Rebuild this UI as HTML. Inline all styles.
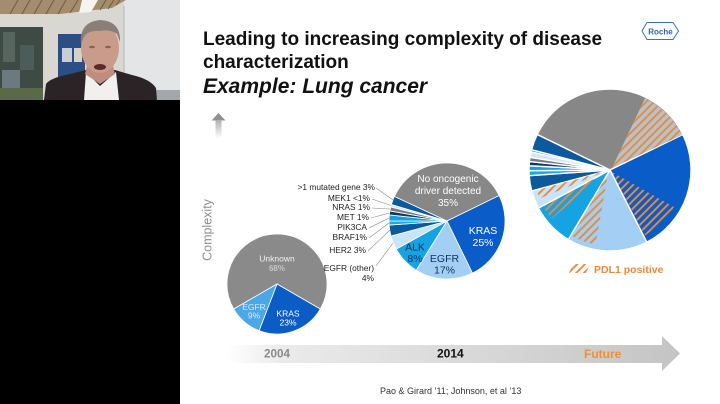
<!DOCTYPE html>
<html><head><meta charset="utf-8">
<style>
html,body{margin:0;padding:0;width:720px;height:404px;overflow:hidden;background:#fff}
svg{display:block}
text{font-family:"Liberation Sans",Arial,sans-serif}
</style></head><body>
<svg width="720" height="404" viewBox="0 0 720 404" xmlns="http://www.w3.org/2000/svg">
<defs>
 <pattern id="h" width="5.5" height="5.5" patternUnits="userSpaceOnUse" patternTransform="rotate(45)">
   <rect width="1.9" height="5.5" fill="#ec8a36"/>
 </pattern>
 <linearGradient id="tl" x1="227" y1="0" x2="680" y2="0" gradientUnits="userSpaceOnUse">
   <stop offset="0" stop-color="#ffffff"/>
   <stop offset="0.12" stop-color="#ebebeb"/>
   <stop offset="1" stop-color="#c4c4c4"/>
 </linearGradient>
 <linearGradient id="ua" x1="0" y1="113" x2="0" y2="138" gradientUnits="userSpaceOnUse">
   <stop offset="0" stop-color="#8f8f8f"/><stop offset="1" stop-color="#ffffff"/>
 </linearGradient>
</defs>

<!-- webcam -->
<rect x="0" y="0" width="180" height="100" fill="#d9d7d2"/>
<rect x="124" y="0" width="56" height="100" fill="#e4e5e7"/>
<line x1="124" y1="6" x2="124" y2="92" stroke="#b5b5b5" stroke-width="1"/>
<polygon points="0,0 126,0 112,8 60,14 0,14" fill="#a48d6d"/>
<g stroke="#6f5a40" stroke-width="1">
<line x1="10" y1="14" x2="18" y2="0"/><line x1="22" y1="14" x2="30" y2="0"/><line x1="34" y1="14" x2="42" y2="0"/>
<line x1="46" y1="14" x2="54" y2="0"/><line x1="58" y1="14" x2="66" y2="0"/><line x1="70" y1="13" x2="78" y2="0"/>
<line x1="100" y1="10" x2="106" y2="0"/><line x1="108" y1="9" x2="114" y2="0"/><line x1="116" y1="5" x2="120" y2="0"/>
</g>
<polygon points="82,0 98,0 91,12 79,13" fill="#f6f4ee"/>
<rect x="0" y="27" width="43" height="73" fill="#3e4a44"/>
<rect x="3" y="32" width="12" height="30" fill="#56665e"/>
<rect x="20" y="45" width="14" height="25" fill="#4c5c58"/>
<rect x="2" y="70" width="18" height="18" fill="#6a7a80"/>
<rect x="0" y="88" width="43" height="12" fill="#5a6a48"/>
<rect x="58" y="34" width="27" height="49" fill="#2c4e87"/>
<rect x="62" y="48" width="10" height="14" fill="#c9cdd6"/>
<rect x="74" y="48" width="8" height="14" fill="#d7d2c8"/>
<rect x="155" y="90" width="25" height="10" fill="#a3a7ab"/>
<path d="M44,100 L46,84 Q50,78 70,74 L86,70 L115,70 L132,75 Q150,79 156,88 L157,100 Z" fill="#2a2426"/>
<path d="M84,100 L86,72 L100,86 L116,72 L119,100 Z" fill="#f1f0ef"/>
<path d="M88,62 L112,62 L115,74 L100,84 L85,74 Z" fill="#c08c7e"/>
<ellipse cx="100" cy="48" rx="19" ry="25" fill="#c99b8b"/>
<path d="M81,44 Q79,22 100,20 Q121,21 120,42 L117,34 Q110,29 100,31 Q88,30 84,37 Z" fill="#8a7f78"/>
<ellipse cx="92" cy="47" rx="3" ry="1.2" fill="#8a6058"/>
<ellipse cx="108" cy="47" rx="3" ry="1.2" fill="#8a6058"/>
<ellipse cx="100" cy="67" rx="6" ry="3" fill="#5a2a2a"/>
<rect x="0" y="100" width="180" height="304" fill="#000"/>

<!-- title -->
<text x="203" y="45" font-size="19" font-weight="bold" fill="#111">Leading to increasing complexity of disease</text>
<text x="203" y="68" font-size="19" font-weight="bold" fill="#111">characterization</text>
<text x="203" y="93" font-size="21" font-weight="bold" font-style="italic" fill="#111">Example: Lung cancer</text>

<!-- Roche logo -->
<polygon points="642,31 647,22.5 673,22.5 678.5,31 673,39.5 647,39.5" fill="none" stroke="#3a72b8" stroke-width="1"/>
<text x="660.5" y="34.5" font-size="8" font-weight="bold" fill="#2f62a8" text-anchor="middle">Roche</text>

<!-- up arrow + Complexity -->
<polygon points="211.5,120.5 218.5,113 225.5,120.5" fill="#909090"/>
<rect x="215.5" y="120" width="6" height="18" fill="url(#ua)"/>
<text transform="translate(211.5,230) rotate(-90)" font-size="12.5" fill="#8e8e8e" text-anchor="middle">Complexity</text>

<!-- pie 1 -->
<g stroke="#fff" stroke-width="0.8">
<path d="M277,284 L233.70,309.00 A50,50 0 1 1 320.30,309.00 Z" fill="#8a8a8a"/>
<path d="M277,284 L320.30,309.00 A50,50 0 0 1 259.08,330.68 Z" fill="#0b5cc5"/>
<path d="M277,284 L259.08,330.68 A50,50 0 0 1 233.70,309.00 Z" fill="#4aa8e8"/>
</g>
<text x="277" y="261.5" font-size="8.5" fill="#f2f2f2" text-anchor="middle">Unknown</text>
<text x="277" y="271" font-size="8" font-weight="bold" fill="#c6c6c6" text-anchor="middle">68%</text>
<text x="288" y="316.5" font-size="8.5" fill="#ffffff" text-anchor="middle">KRAS</text>
<text x="288" y="325.5" font-size="8.5" fill="#ffffff" text-anchor="middle">23%</text>
<text x="254" y="310" font-size="8.5" fill="#d8ecfa" text-anchor="middle">EGFR</text>
<text x="254" y="318.5" font-size="8.5" fill="#d8ecfa" text-anchor="middle">9%</text>

<!-- pie 2 -->
<g stroke="#fff" stroke-width="0.8">
<path d="M447,221 L394.43,196.49 A58,58 0 0 1 499.13,195.57 Z" fill="#878787"/>
<path d="M447,221 L499.13,195.57 A58,58 0 0 1 472.43,273.13 Z" fill="#0a5cc8"/>
<path d="M447,221 L472.43,273.13 A58,58 0 0 1 416.27,270.18 Z" fill="#a2cff3"/>
<path d="M447,221 L416.27,270.18 A58,58 0 0 1 396.27,249.12 Z" fill="#15a3e4"/>
<path d="M447,221 L396.27,249.12 A58,58 0 0 1 390.98,236.01 Z" fill="#c9e4f7"/>
<path d="M447,221 L390.98,236.01 A58,58 0 0 1 389.14,225.05 Z" fill="#0b5a9c"/>
<path d="M447,221 L389.14,225.05 A58,58 0 0 1 389,221 Z" fill="#1aa8e6"/>
<path d="M447,221 L389,221 A58,58 0 0 1 389.32,214.94 Z" fill="#12a0e0"/>
<path d="M447,221 L389.32,214.94 A58,58 0 0 1 389.88,210.93 Z" fill="#0d3a62"/>
<path d="M447,221 L389.88,210.93 A58,58 0 0 1 390.72,206.97 Z" fill="#7c7c7c"/>
<path d="M447,221 L390.72,206.97 A58,58 0 0 1 391.39,204.53 Z" fill="#d5e6f3"/>
<path d="M447,221 L391.39,204.53 A58,58 0 0 1 394.43,196.49 Z" fill="#0c5a9e"/>
</g>
<text x="448" y="182" font-size="10" fill="#fff" text-anchor="middle">No oncogenic</text>
<text x="448" y="194" font-size="10" fill="#fff" text-anchor="middle">driver detected</text>
<text x="448" y="206" font-size="10" fill="#fff" text-anchor="middle">35%</text>
<text x="483" y="234" font-size="10.5" fill="#fff" text-anchor="middle">KRAS</text>
<text x="483" y="246" font-size="10.5" fill="#fff" text-anchor="middle">25%</text>
<text x="444.5" y="262" font-size="10.5" fill="#0d3566" text-anchor="middle">EGFR</text>
<text x="444.5" y="273.5" font-size="10.5" fill="#0d3566" text-anchor="middle">17%</text>
<text x="415" y="250.5" font-size="10.5" fill="#0d3566" text-anchor="middle">ALK</text>
<text x="415" y="262" font-size="10.5" fill="#0d3566" text-anchor="middle">8%</text>

<g stroke="#8a8a8a" stroke-width="0.6" fill="none">
<line x1="376" y1="188" x2="393" y2="200"/>
<line x1="372" y1="199" x2="391" y2="205.5"/>
<line x1="372" y1="208" x2="390" y2="209"/>
<line x1="371" y1="218" x2="389.5" y2="213"/>
<line x1="369" y1="228" x2="389" y2="218"/>
<line x1="369" y1="238" x2="389" y2="223"/>
<line x1="368" y1="251" x2="390" y2="230"/>
<line x1="376" y1="266" x2="393" y2="243"/>
</g>
<g font-size="8.4" fill="#222" text-anchor="end">
<text x="375" y="190">&gt;1 mutated gene 3%</text>
<text x="370" y="201">MEK1 &lt;1%</text>
<text x="370" y="210">NRAS 1%</text>
<text x="369" y="220">MET 1%</text>
<text x="367" y="230">PIK3CA</text>
<text x="367" y="240">BRAF1%</text>
<text x="366" y="253">HER2 3%</text>
<text x="374" y="271">EGFR (other)</text>
<text x="374" y="281">4%</text>
</g>

<!-- pie 3 -->
<g stroke="#fff" stroke-width="1.4">
<path d="M610,170 L537.20,134.49 A81,81 0 0 1 682.80,134.49 Z" fill="#878787"/>
<path d="M610,170 L682.80,134.49 A81,81 0 0 1 646.77,242.17 Z" fill="#0a5cc8"/>
<path d="M610,170 L646.77,242.17 A81,81 0 0 1 568.28,239.43 Z" fill="#a2cff3"/>
<path d="M610,170 L568.28,239.43 A81,81 0 0 1 538.49,208.03 Z" fill="#15a3e4"/>
<path d="M610,170 L538.49,208.03 A81,81 0 0 1 531.76,190.96 Z" fill="#c9e4f7"/>
<path d="M610,170 L531.76,190.96 A81,81 0 0 1 529.20,175.65 Z" fill="#0b5a9c"/>
<path d="M610,170 L529.20,175.65 A81,81 0 0 1 529.00,170.70 Z" fill="#1aa8e6"/>
<path d="M610,170 L529.00,170.70 A81,81 0 0 1 529.11,165.76 Z" fill="#12a0e0"/>
<path d="M610,170 L529.11,165.76 A81,81 0 0 1 529.45,161.53 Z" fill="#0d3a62"/>
<path d="M610,170 L529.45,161.53 A81,81 0 0 1 530.00,157.33 Z" fill="#7c7c7c"/>
<path d="M610,170 L530.00,157.33 A81,81 0 0 1 531.07,151.77 Z" fill="#d5e6f3"/>
<path d="M610,170 L531.07,151.77 A81,81 0 0 1 531.58,149.72 Z" fill="#2f8fe0"/>
<path d="M610,170 L531.58,149.72 A81,81 0 0 1 537.20,134.49 Z" fill="#0c5a9e"/>
</g>
<!-- hatches -->
<path d="M612,168 L645.07,98.10 A80,80 0 0 1 681.90,134.93 Z" fill="#b4c3ce"/>
<path d="M612,168 L645.07,98.10 A80,80 0 0 1 681.90,134.93 Z" fill="url(#h)"/>
<path d="M612,172 L674.09,207 A74,74 0 0 1 644.74,235.33 Z" fill="url(#h)"/>
<path d="M608,173 L595.50,244.60 A76,76 0 0 1 572,235.82 Z" fill="url(#h)"/>
<path d="M606,172 L551.78,218.85 A76,76 0 0 1 543.53,206.84 Z" fill="url(#h)"/>
<path d="M606,171 L539.53,198.47 A76,76 0 0 1 536.77,190.31 Z" fill="url(#h)"/>

<!-- legend -->
<polygon points="569,273 573,264 590,264 586,273" fill="url(#h)"/>
<text x="594" y="273" font-size="10.5" font-weight="bold" fill="#ec8a38">PDL1 positive</text>

<!-- timeline -->
<path d="M227,345 L662,345 L662,336 L680,353.5 L662,371 L662,363 L227,363 Z" fill="url(#tl)"/>
<text x="264" y="357.5" font-size="11.7" font-weight="bold" fill="#8a8a8a">2004</text>
<text x="437" y="357.5" font-size="12" font-weight="bold" fill="#111">2014</text>
<text x="584" y="358" font-size="12" font-weight="bold" fill="#f09030">Future</text>

<text x="380" y="394" font-size="9" fill="#333">Pao &amp; Girard ’11; Johnson, et al ’13</text>
</svg>
</body></html>
